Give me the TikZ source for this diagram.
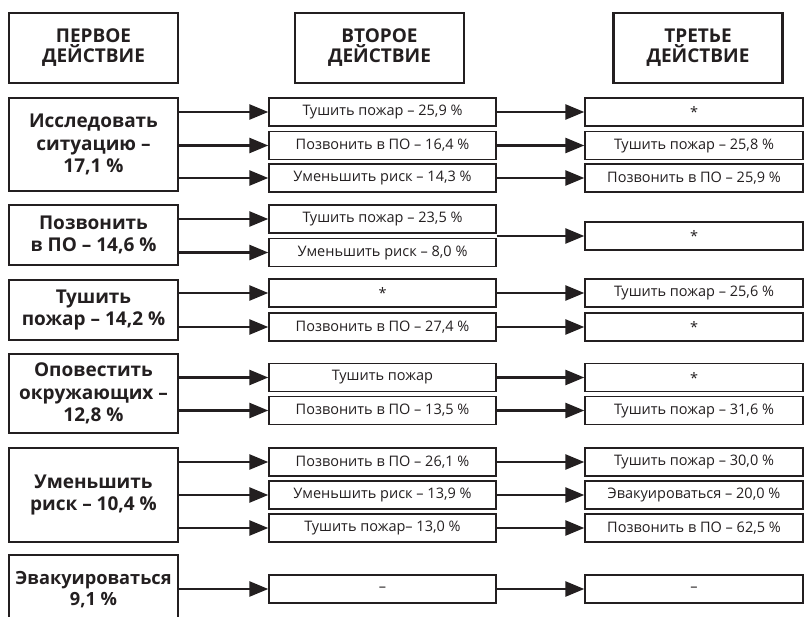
\documentclass[tikz,border=0pt]{standalone}
\usepackage{fontspec}
\setmainfont{Open Sans}
\newfontfamily\smallfont{Open Sans}
\usetikzlibrary{arrows.meta}
\definecolor{ink}{HTML}{231F20}
\begin{document}
\begin{tikzpicture}[x=1pt,y=-1pt,
  every node/.style={text=ink},
  hdr/.style={draw=ink,line width=2.8pt,minimum width=169pt,minimum height=70pt,inner sep=0pt,align=center,
    font=\bfseries\fontsize{19}{20}\selectfont},
  firstbox/.style={draw=ink,line width=2.8pt,minimum width=169pt,inner sep=0pt,align=center,
    font=\bfseries\fontsize{19}{22.5}\selectfont},
  secbox/.style={draw=ink,line width=1.4pt,minimum width=227pt,minimum height=28pt,inner sep=0pt,
    font=\smallfont\fontsize{14.5}{16}\selectfont},
  thirdbox/.style={draw=ink,line width=1.4pt,minimum width=218pt,minimum height=28pt,inner sep=0pt,
    font=\smallfont\fontsize{14.5}{16}\selectfont},
  arr/.style={draw=ink,line width=2.6pt,-{Triangle[length=19pt,width=15pt]}}
]
\useasboundingbox (0,0) rectangle (805,617);
\clip (0,0) rectangle (805,617);
\fill[white] (0,0) rectangle (805,617);

% headers
\node[hdr] (h1) at (93.5,48) {ПЕРВОЕ\\ДЕЙСТВИЕ};
\node[hdr] (h2) at (379.5,48) {ВТОРОЕ\\ДЕЙСТВИЕ};
\node[hdr] (h3) at (698,48) {ТРЕТЬЕ\\ДЕЙСТВИЕ};

% first action
\node[firstbox,minimum height=93pt] (f1) at (93.5,144.5) {Исследовать\\ситуацию –\\17,1 \%};
\node[firstbox,minimum height=60pt] (f2) at (93.5,235) {Позвонить\\в ПО – 14,6 \%};
\node[firstbox,minimum height=60pt] (f3) at (93.5,310) {Тушить\\пожар – 14,2 \%};
\node[firstbox,minimum height=79pt] (f4) at (93.5,393.5) {Оповестить\\окружающих –\\12,8 \%};
\node[firstbox,minimum height=94pt] (f5) at (93.5,495) {Уменьшить\\риск – 10,4 \%};
\node[firstbox,minimum height=70pt,font=\bfseries\fontsize{18.2}{21}\selectfont] (f6) at (93.5,590) {Эвакуироваться\\9,1 \%};

% second action
\node[secbox] (s1a) at (382.5,112) {Тушить пожар – 25,9 \%};
\node[secbox] (s1b) at (382.5,145.5) {Позвонить в ПО – 16,4 \%};
\node[secbox] (s1c) at (382.5,178) {Уменьшить риск – 14,3 \%};
\node[secbox] (s2a) at (382.5,219) {Тушить пожар – 23,5 \%};
\node[secbox] (s2b) at (382.5,252.5) {Уменьшить риск – 8,0 \%};
\node[secbox] (s3a) at (382.5,293) {*};
\node[secbox] (s3b) at (382.5,327) {Позвонить в ПО – 27,4 \%};
\node[secbox] (s4a) at (382.5,377.5) {Тушить пожар};
\node[secbox] (s4b) at (382.5,410.5) {Позвонить в ПО – 13,5 \%};
\node[secbox] (s5a) at (382.5,462) {Позвонить в ПО – 26,1 \%};
\node[secbox] (s5b) at (382.5,495) {Уменьшить риск – 13,9 \%};
\node[secbox] (s5c) at (382.5,528) {Тушить пожар– 13,0 \%};
\node[secbox] (s6) at (382.5,589) {–};

% third action
\node[thirdbox] (t1a) at (694,112) {*};
\node[thirdbox] (t1b) at (694,145.5) {Тушить пожар – 25,8 \%};
\node[thirdbox] (t1c) at (694,178) {Позвонить в ПО – 25,9 \%};
\node[thirdbox] (t2) at (694,236) {*};
\node[thirdbox] (t3a) at (694,293) {Тушить пожар – 25,6 \%};
\node[thirdbox] (t3b) at (694,327) {*};
\node[thirdbox] (t4a) at (694,377.5) {*};
\node[thirdbox] (t4b) at (694,410.5) {Тушить пожар – 31,6 \%};
\node[thirdbox] (t5a) at (694,462) {Тушить пожар – 30,0 \%};
\node[thirdbox] (t5b) at (694,495) {Эвакуироваться – 20,0 \%};
\node[thirdbox] (t5c) at (694,528) {Позвонить в ПО – 62,5 \%};
\node[thirdbox] (t6) at (694,589) {–};

% arrows first -> second
\foreach \f/\s in {f1/s1a,f1/s1b,f1/s1c,f2/s2a,f2/s2b,f3/s3a,f3/s3b,f4/s4a,f4/s4b,f5/s5a,f5/s5b,f5/s5c,f6/s6}
  \draw[arr] (\f.east |- \s.west) -- (\s.west);

% arrows second -> third
\foreach \s/\t in {s1a/t1a,s1b/t1b,s1c/t1c,s3a/t3a,s3b/t3b,s4a/t4a,s4b/t4b,s5a/t5a,s5b/t5b,s5c/t5c,s6/t6}
  \draw[arr] (\s.east) -- (\t.west);
\draw[arr] (t2.west -| s2a.east) -- (t2.west);
\end{tikzpicture}
\end{document}
